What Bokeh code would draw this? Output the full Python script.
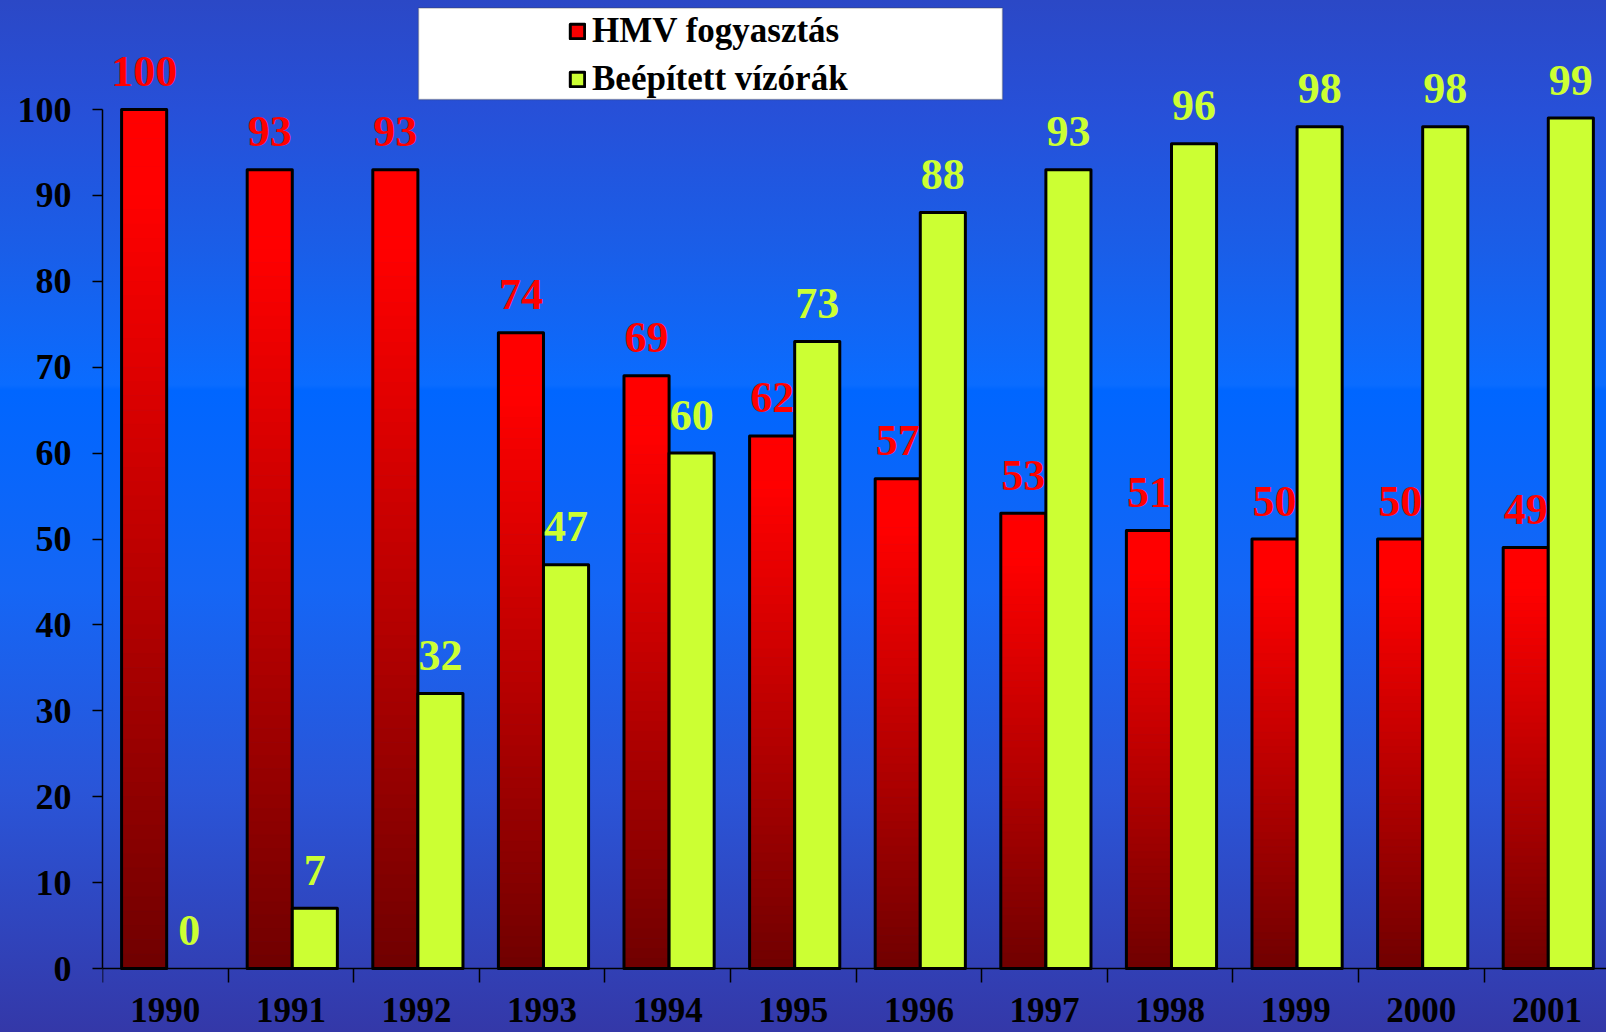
import numpy as np
from bokeh.plotting import figure
from bokeh.models import (Range1d, FixedTicker, Legend, LegendItem, BoxAnnotation,
                          GlobalInlineStyleSheet)
from bokeh.core.properties import value
from bokeh.embed import file_html
from bokeh.resources import INLINE

# ---------------- data ----------------
years = ["1990", "1991", "1992", "1993", "1994", "1995",
         "1996", "1997", "1998", "1999", "2000", "2001"]
hmv_fogyasztas = [100, 93, 93, 74, 69, 62, 57, 53, 51, 50, 50, 49]
beepitett_vizorak = [0, 7, 32, 47, 60, 73, 88, 93, 96, 98, 98, 99]
series_names = ["HMV fogyasztás", "Beépített vízórák"]
y_ticks = list(range(0, 101, 10))

# ---------------- style / layout ----------------
SERIF = "Liberation Serif"
GREEN = "#ccff33"
RED_LABEL = "#ff0000"
W, H = 1606, 1032
FRAME_LEFT = 102         # px
AXIS_Y_PX = 968          # px from figure top where value 0 sits
CAT_PX = 125.6           # px per category
PX_PER_UNIT = 8.59       # px per y unit
RED_L, MID, GREEN_R = 0.152, 0.511, 0.870   # bar edges inside a category
LABEL_LIFT = -38         # px

n = len(years)
idx = np.arange(n)
x_end = (W - FRAME_LEFT) / CAT_PX
y_end = AXIS_Y_PX / PX_PER_UNIT
y_start = -(H - AXIS_Y_PX) / PX_PER_UNIT

p = figure(width=W, height=H, output_backend="svg", toolbar_location=None,
           x_range=Range1d(0, x_end), y_range=Range1d(y_start, y_end),
           min_border_left=FRAME_LEFT, min_border_right=0,
           min_border_top=0, min_border_bottom=0)
p.background_fill_alpha = 0
p.border_fill_alpha = 0
p.outline_line_color = None
p.xgrid.visible = False
p.ygrid.visible = False

grad = ("html{min-height:100%;background:linear-gradient(to bottom,"
        "#2b48c6 0%,#2750d8 10.6%,#1a5ee8 24.2%,#0a6cff 37.3%,#0066ff 37.8%,"
        "#1566f5 57.2%,#2a55d8 76.6%,#3438a8 100%) no-repeat;}"
        "body{background:transparent;}")
p.stylesheets = [GlobalInlineStyleSheet(css=grad)]

# ---------------- red bars with vertical gradient ----------------
N = 60
L, R, B, T, C = [], [], [], [], []
for i, v in enumerate(hmv_fogyasztas):
    for k in range(N):
        f0, f1 = k / N, (k + 1) / N
        fm = (f0 + f1) / 2
        t = max(0.0, (fm - 0.1) / 0.9)
        r = int(round(255 - (255 - 112) * t))
        L.append(i + RED_L)
        R.append(i + MID)
        T.append(v * (1 - f0))
        B.append(v * (1 - f1))
        C.append("#%02x0000" % r)
red_slices = p.quad(left=L, right=R, bottom=B, top=T, fill_color=C, line_color=C, line_width=1)
red_outline = p.quad(left=idx + RED_L, right=idx + MID, bottom=0, top=hmv_fogyasztas,
                     fill_alpha=0, line_color="black", line_width=3, line_join="round")
p.text(x=idx + (RED_L + MID) / 2, y=hmv_fogyasztas, text=[str(v) for v in hmv_fogyasztas],
       text_align="center", text_baseline="alphabetic", y_offset=LABEL_LIFT,
       text_color=RED_LABEL, text_font=value(SERIF), text_font_style="bold",
       text_font_size="44px")

# ---------------- green bars ----------------
green_line_alpha = [0 if v == 0 else 1 for v in beepitett_vizorak]
green_bars = p.quad(left=idx + MID, right=idx + GREEN_R, bottom=0, top=beepitett_vizorak,
                    fill_color=GREEN, line_color="black", line_width=3, line_join="round",
                    line_alpha=green_line_alpha)
p.text(x=idx + (MID + GREEN_R) / 2, y=beepitett_vizorak,
       text=[str(v) for v in beepitett_vizorak],
       text_align="center", text_baseline="alphabetic", y_offset=LABEL_LIFT,
       text_color=GREEN, text_font=value(SERIF), text_font_style="bold",
       text_font_size="44px")

# ---------------- axes ----------------
xa = p.xaxis[0]
xa.fixed_location = 0
xa.ticker = FixedTicker(ticks=[float(i) + 0.5 for i in idx], minor_ticks=list(range(n + 1)))
xa.major_label_overrides = {float(i) + 0.5: y for i, y in enumerate(years)}
xa.major_tick_out = 0
xa.major_tick_in = 0
xa.minor_tick_out = 14
xa.minor_tick_in = 0
xa.minor_tick_line_color = "black"
xa.minor_tick_line_width = 1.5
xa.axis_line_color = "black"
xa.axis_line_width = 1.5
xa.major_label_standoff = 15
xa.major_label_text_font = SERIF
xa.major_label_text_font_style = "bold"
xa.major_label_text_font_size = "35px"
xa.major_label_text_color = "black"

ya = p.yaxis[0]
ya.bounds = (0, 100)
ya.ticker = FixedTicker(ticks=y_ticks)
ya.major_tick_out = 10
ya.major_tick_in = 0
ya.minor_tick_out = 0
ya.minor_tick_in = 0
ya.major_tick_line_color = "black"
ya.major_tick_line_width = 1.5
ya.axis_line_color = "black"
ya.axis_line_width = 1.5
ya.major_label_standoff = 21
ya.major_label_text_font = SERIF
ya.major_label_text_font_style = "bold"
ya.major_label_text_font_size = "36px"
ya.major_label_text_color = "black"

# ---------------- legend ----------------
box = BoxAnnotation(left=(418 - FRAME_LEFT) / CAT_PX, right=(1002 - FRAME_LEFT) / CAT_PX,
                    top=y_end - 7.5 / PX_PER_UNIT, bottom=y_end - 99 / PX_PER_UNIT,
                    fill_color="white", fill_alpha=1, line_color="#404040", line_width=1.5)
p.add_layout(box)

legend = Legend(items=[LegendItem(label=series_names[0], renderers=[red_slices, red_outline], index=8),
                       LegendItem(label=series_names[1], renderers=[green_bars], index=1)],
                location=(466, 933), orientation="vertical",
                background_fill_alpha=0, border_line_alpha=0,
                padding=0, margin=0, spacing=8,
                glyph_width=18, glyph_height=18, label_standoff=6,
                label_height=40,
                label_text_font=SERIF, label_text_font_style="bold",
                label_text_font_size="35px", label_text_color="black")
p.add_layout(legend, "center")

open("out.html", "w").write(file_html(p, INLINE))
